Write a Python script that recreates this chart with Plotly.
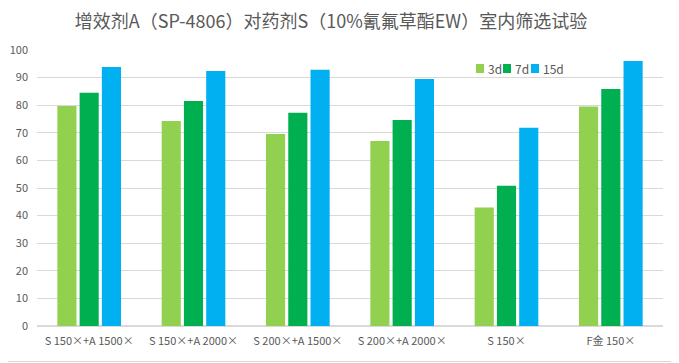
import plotly.graph_objects as go

categories = ["S 150×+A 1500×", "S 150×+A 2000×", "S 200×+A 1500×",
              "S 200×+A 2000×", "S 150×", "F金 150×"]
d3 = [79.7, 74.3, 69.6, 67.0, 42.9, 79.5]
d7 = [84.5, 81.5, 77.3, 74.6, 50.8, 85.9]
d15 = [93.8, 92.4, 92.8, 89.5, 71.8, 96.0]
series_names = ["3d", "7d", "15d"]
colors = ["#92D050", "#00B050", "#00B0F0"]

# page has an 8px body margin; figure is placed at (8, 8)
OFF = 8
W, H = 679 - OFF, 363 - OFF
L, R, T, B = 37 - OFF, 16, 50 - OFF, 37
pw, ph = W - L - R, H - T - B

def px_x(page_x):
    return (page_x - OFF - L) / pw

def px_y(page_y):
    return (H - B - (page_y - OFF)) / ph

fig = go.Figure()
for name, vals, c in zip(series_names, [d3, d7, d15], colors):
    fig.add_trace(go.Bar(x=categories, y=vals, name=name, marker_color=c,
                         marker_line_width=0, showlegend=False))

font_fam = "Noto Sans CJK SC, Liberation Sans, sans-serif"

shapes = [dict(type="rect", xref="paper", yref="paper",
               x0=px_x(-5), x1=px_x(677.5),
               y0=px_y(361.5), y1=px_y(-5),
               line=dict(color="#D9D9D9", width=1), layer="below")]
annotations = []
leg_x = [476, 503, 531]
for name, c, lx in zip(series_names, colors, leg_x):
    shapes.append(dict(type="rect", xref="paper", yref="paper",
                       x0=px_x(lx), x1=px_x(lx + 8),
                       y0=px_y(73), y1=px_y(64),
                       fillcolor=c, line=dict(width=0)))
    annotations.append(dict(text=name, xref="paper", yref="paper",
                            x=px_x(lx + 10), y=px_y(68.5),
                            xanchor="left", yanchor="middle", showarrow=False,
                            font=dict(size=12, color="#595959")))

fig.update_layout(
    width=W, height=H,
    margin=dict(l=L, r=R, t=T, b=B),
    paper_bgcolor="white", plot_bgcolor="white",
    barmode="group", bargap=0.36, bargroupgap=0.14,
    showlegend=False,
    title=dict(text="增效剂A（SP-4806）对药剂S（10%氰氟草酯EW）室内筛选试验",
               x=(331 - OFF) / W, xanchor="center", xref="container",
               y=1 - (22 - OFF) / H, yanchor="middle",
               font=dict(family=font_fam, size=18, color="#595959")),
    font=dict(family=font_fam, size=11, color="#595959"),
    xaxis=dict(showgrid=False, showline=False, ticks="", automargin=False,
               ticklabelstandoff=7,
               tickfont=dict(size=11, color="#595959")),
    yaxis=dict(range=[0, 100], dtick=10, showgrid=True, gridcolor="#D9D9D9",
               gridwidth=1, zeroline=True, zerolinecolor="#D9D9D9",
               ticks="", ticklen=0, automargin=False, ticklabelstandoff=8,
               tickfont=dict(size=11, color="#595959")),
    shapes=shapes,
    annotations=annotations,
)
fig.write_html("out.html")
